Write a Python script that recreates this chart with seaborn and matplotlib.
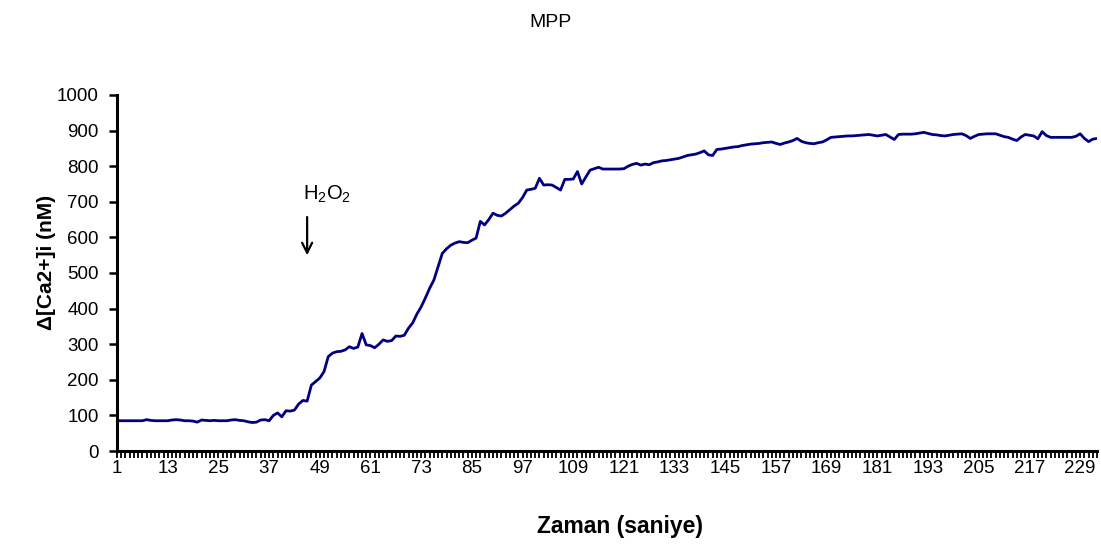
import numpy as np
import pandas as pd
import matplotlib
matplotlib.use("Agg")
import matplotlib.pyplot as plt
import seaborn as sns

# ---- data ----
title = "MPP"
x_label = "Zaman (saniye)"
y_label = "Δ[Ca2+]i (nM)"
annotation_text = "H$_2$O$_2$"
annotation_x = 46

ca_values = [
    85, 85, 85, 85, 85, 85, 85, 88, 86, 85,
    85, 85, 85, 87, 88, 87, 85, 85, 84, 81,
    87, 86, 85, 86, 85, 85, 85, 87, 88, 86,
    85, 82, 80, 81, 87, 88, 85, 100, 107, 96,
    113, 112, 115, 132, 142, 140, 185, 195, 205, 223,
    265, 275, 279, 280, 284, 293, 288, 292, 330, 298,
    296, 290, 300, 312, 308, 310, 323, 322, 325, 345,
    360, 385, 405, 430, 457, 480, 518, 555, 568, 578,
    584, 588, 586, 585, 592, 598, 645, 635, 650, 668,
    662, 660, 668, 678, 688, 696, 712, 733, 735, 738,
    766, 747, 748, 747, 740, 733, 763, 763, 764, 785,
    750, 770, 789, 793, 797, 792, 792, 792, 792, 792,
    793, 800, 805, 808, 803, 806, 804, 810, 812, 815,
    816, 818, 820, 822, 826, 830, 832, 834, 838, 843,
    832, 830, 847, 848, 850, 852, 854, 855, 858, 860,
    862, 863, 864, 866, 867, 868, 864, 861, 865, 868,
    872, 878, 870, 866, 864, 863, 866, 868, 874, 881,
    882, 883, 884, 885, 885, 886, 887, 888, 889, 887,
    885, 887, 889, 882, 875, 889, 890, 890, 890, 891,
    893, 895, 892, 889, 888, 886, 885, 887, 889, 890,
    891, 886, 878, 884, 889, 890, 891, 891, 891, 887,
    883, 881, 876, 872, 882, 889, 887, 885, 877, 897,
    886, 881, 881, 881, 881, 881, 881, 884, 891, 878,
    869, 876, 878,
]
time_points = list(range(1, len(ca_values) + 1))
x_tick_labels = [str(v) for v in range(1, 230, 12)]
y_ticks = list(range(0, 1001, 100))

df = pd.DataFrame({"t": time_points, "ca": ca_values})

# ---- style ----
sns.set_theme(style="ticks")
plt.rcParams["font.family"] = ["Liberation Sans", "DejaVu Sans"]
plt.rcParams["mathtext.fontset"] = "custom"
plt.rcParams["mathtext.rm"] = "Liberation Sans"
plt.rcParams["mathtext.it"] = "Liberation Sans"
plt.rcParams["text.color"] = "black"
plt.rcParams["axes.labelcolor"] = "black"
plt.rcParams["xtick.color"] = "black"
plt.rcParams["ytick.color"] = "black"

fig = plt.figure(figsize=(11.01, 5.5), dpi=100)
ax = fig.add_axes([0.1063, 0.18, 0.8901, 0.6473])

sns.lineplot(data=df, x="t", y="ca", ax=ax, color="#000080", linewidth=2.0)

ax.set_xlim(1, len(ca_values))
ax.set_ylim(0, 1000)
ax.set_yticks(y_ticks)
ax.set_yticklabels([str(v) for v in y_ticks], fontsize=13.5)
ax.set_xticks([int(v) for v in x_tick_labels])
ax.set_xticklabels(x_tick_labels, fontsize=13.5)
ax.set_xticks(time_points, minor=True)
ax.tick_params(axis="x", which="both", direction="out", length=5, width=1.3, color="black", pad=1.5)
ax.tick_params(axis="y", which="major", direction="out", length=6, width=1.8, color="black", pad=7)

for side in ["top", "right"]:
    ax.spines[side].set_visible(False)
for side in ["left", "bottom"]:
    ax.spines[side].set_linewidth(2.2)
    ax.spines[side].set_color("black")

ax.set_xlabel(x_label, fontsize=16.5, fontweight="bold")
ax.xaxis.set_label_coords(0.513, -0.18)
ax.set_ylabel(y_label, fontsize=15, fontweight="bold")
ax.yaxis.set_label_coords(-0.062, 0.53)
fig.suptitle(title, fontsize=14, y=0.975)

ax.annotate("", xy=(annotation_x, 542), xytext=(annotation_x, 665),
            arrowprops=dict(arrowstyle="->", color="black", lw=1.6, mutation_scale=18))
ax.text(annotation_x - 1, 720, annotation_text, fontsize=14.5, ha="left", va="center")

fig.savefig("out.png", dpi=100, facecolor="white")
